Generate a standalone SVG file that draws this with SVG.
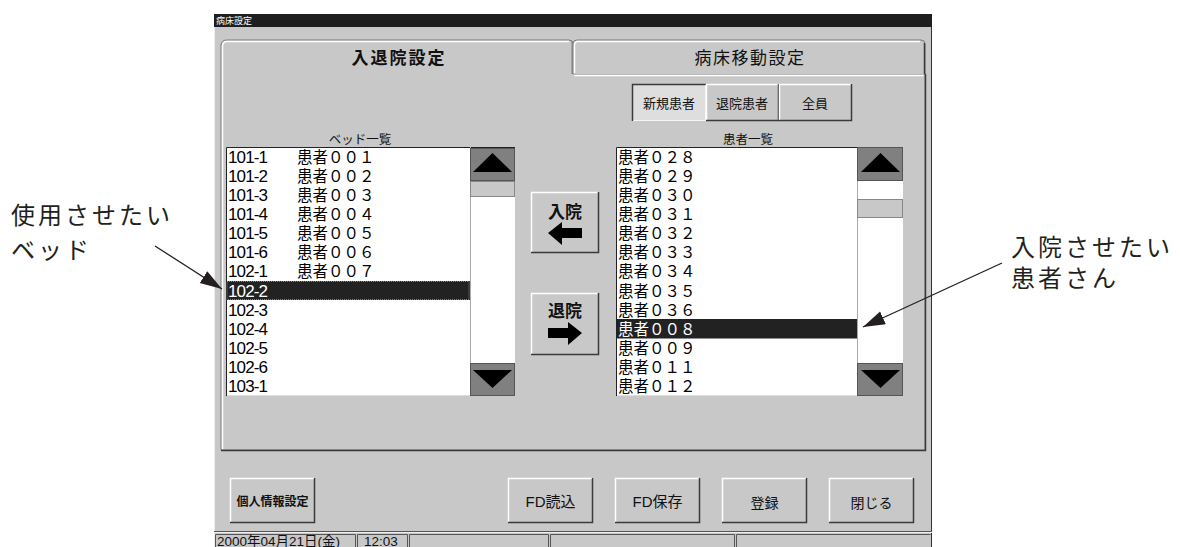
<svg xmlns="http://www.w3.org/2000/svg" width="1180" height="547" viewBox="0 0 1180 547">
<style>
.ui{font-family:"Liberation Sans","Noto Sans CJK JP",sans-serif;fill:#111}
.jp{font-family:"Noto Sans CJK JP",sans-serif;fill:#111}
.face{fill:#c8c8c8}
.hl{fill:none;stroke:#fff;stroke-width:1.5}
.sh{fill:none;stroke:#3a3a3a;stroke-width:1.5}
.sh2{fill:none;stroke:#808080;stroke-width:1}
.id{font-family:"Liberation Sans",sans-serif;font-size:17px;fill:#000}
.nm{font-family:"Noto Sans CJK JP",sans-serif;font-size:15.5px;fill:#000}
.sel{fill:#fff}
.sbtn{fill:#808080;stroke:#555;stroke-width:1}
.ann{font-family:"Noto Sans CJK JP",sans-serif;font-size:24px;fill:#231f20;letter-spacing:3px}
.conn{stroke:#231f20;stroke-width:1.3;fill:none}
</style>
<defs>
<marker id="ah" markerUnits="userSpaceOnUse" markerWidth="24" markerHeight="16" refX="22" refY="7" orient="auto">
<path d="M0,0 L22,7 L0,14 Z" fill="#231f20"/>
</marker>
</defs>
<rect width="1180" height="547" fill="#fff"/>

<g id="window">
<rect x="214" y="14" width="718" height="533" class="face"/>
<line x1="214.5" y1="27" x2="214.5" y2="547" stroke="#eee"/>
<line x1="931.5" y1="14" x2="931.5" y2="547" stroke="#333"/>
<rect x="214" y="14" width="718" height="13" fill="#1e1e1e"/>
<text x="216" y="23.5" font-family="Noto Sans CJK JP,sans-serif" font-size="9" fill="#fff">病床設定</text>
</g>

<g id="tab-panel">
<path d="M221,450 V46 Q221,40 227,40 H569 Q573,40 573,44 V74 H925 V450 Z" class="face" stroke="#7a7a7a" stroke-width="1"/>
<path d="M222.5,449 V46.5 Q222.5,41.5 227,41.5 H569" class="hl"/>
<path d="M574,75.5 H923.5" class="hl"/>
<path d="M221,450.5 H925.5 V74" class="sh"/>
<path d="M572,41.5 V74" class="sh2"/>
</g>

<g id="tab-nyutai">
<text x="399" y="64" text-anchor="middle" class="ui" font-size="17" font-weight="bold" letter-spacing="2">入退院設定</text>
</g>

<g id="tab-idou">
<path d="M573,74 V44 Q573,40 577,40 H921 Q925,40 925,44 V74" class="face" stroke="#7a7a7a" stroke-width="1"/>
<path d="M574.5,73 V44.5 Q574.5,41.5 577.5,41.5 H920" class="hl"/>
<path d="M924.5,43 V74" class="sh"/>
<text x="750" y="64" text-anchor="middle" class="ui" font-size="17" letter-spacing="1.5">病床移動設定</text>
</g>

<g id="filter-shinki">
<rect x="632" y="84" width="74" height="37" fill="#dedede"/>
<path d="M632.5,121 V84.5 H706" class="sh"/>
<path d="M633.5,120.5 H705.5 V85" stroke="#f4f4f4" fill="none"/>
<text x="669" y="108" text-anchor="middle" class="ui" font-size="13">新規患者</text>
</g>
<g id="filter-taiin">
<rect x="706" y="84" width="73" height="37" class="face"/>
<path d="M706.5,120 V84.5 H778" class="hl"/>
<path d="M706,120.5 H778.5 V84" class="sh"/>
<text x="742" y="108" text-anchor="middle" class="ui" font-size="13">退院患者</text>
</g>
<g id="filter-zenin">
<rect x="779" y="84" width="73" height="37" class="face"/>
<path d="M779.5,120 V84.5 H851" class="hl"/>
<path d="M779,120.5 H851.5 V84" class="sh"/>
<text x="815" y="108" text-anchor="middle" class="ui" font-size="13">全員</text>
</g>

<g id="bed-list">
<text x="360" y="144" text-anchor="middle" class="ui" font-size="12.5">ベッド一覧</text>
<rect x="226" y="147" width="289" height="249" fill="#fff"/>
<path d="M226.5,396 V147.5 H515" stroke="#222" fill="none"/>
<path d="M227,395.5 H515" stroke="#ddd" fill="none"/>
<line x1="470.5" y1="147" x2="470.5" y2="396" stroke="#aaa"/>
<rect x="226" y="281" width="244" height="19" fill="#222"/>
<rect x="227" y="281.5" width="242" height="18" fill="none" stroke="#888" stroke-dasharray="1,1"/>
<rect x="470.5" y="148.5" width="44" height="32" class="sbtn"/>
<polygon points="473,172 512,172 492.5,153" fill="#000"/>
<rect x="470.5" y="181.5" width="44" height="15" fill="#c8c8c8" stroke="#888"/>
<rect x="470.5" y="363.5" width="44" height="32" class="sbtn"/>
<polygon points="473,370 512,370 492.5,388" fill="#000"/>
<text class="id" x="228" y="162.6" textLength="40">101-1</text><text class="nm" x="297" y="162.6">患者００１</text>
<text class="id" x="228" y="181.7" textLength="40">101-2</text><text class="nm" x="297" y="181.7">患者００２</text>
<text class="id" x="228" y="200.9" textLength="40">101-3</text><text class="nm" x="297" y="200.9">患者００３</text>
<text class="id" x="228" y="220.0" textLength="40">101-4</text><text class="nm" x="297" y="220.0">患者００４</text>
<text class="id" x="228" y="239.2" textLength="40">101-5</text><text class="nm" x="297" y="239.2">患者００５</text>
<text class="id" x="228" y="258.3" textLength="40">101-6</text><text class="nm" x="297" y="258.3">患者００６</text>
<text class="id" x="228" y="277.4" textLength="40">102-1</text><text class="nm" x="297" y="277.4">患者００７</text>
<text class="id sel" x="228" y="296.6" textLength="40">102-2</text>
<text class="id" x="228" y="315.7" textLength="40">102-3</text>
<text class="id" x="228" y="334.9" textLength="40">102-4</text>
<text class="id" x="228" y="354.0" textLength="40">102-5</text>
<text class="id" x="228" y="373.1" textLength="40">102-6</text>
<text class="id" x="228" y="392.3" textLength="40">103-1</text>
</g>

<g id="patient-list">
<text x="748" y="144" text-anchor="middle" class="ui" font-size="12.5">患者一覧</text>
<rect x="616" y="147" width="287" height="249" fill="#fff"/>
<path d="M616.5,396 V147.5 H903" stroke="#222" fill="none"/>
<path d="M617,395.5 H903" stroke="#ddd" fill="none"/>
<line x1="857.5" y1="147" x2="857.5" y2="396" stroke="#aaa"/>
<rect x="616" y="319" width="241" height="19.5" fill="#222"/>
<rect x="857.5" y="147.5" width="45" height="33" class="sbtn"/>
<polygon points="861,172 900,172 880.5,153" fill="#000"/>
<rect x="857.5" y="199.5" width="45" height="18" fill="#c8c8c8" stroke="#888"/>
<rect x="857.5" y="363.5" width="45" height="32" class="sbtn"/>
<polygon points="861,370 900,370 880.5,388" fill="#000"/>
<text class="nm" x="618" y="162.6" font-size="16">患者０２８</text>
<text class="nm" x="618" y="181.7" font-size="16">患者０２９</text>
<text class="nm" x="618" y="200.9" font-size="16">患者０３０</text>
<text class="nm" x="618" y="220.0" font-size="16">患者０３１</text>
<text class="nm" x="618" y="239.2" font-size="16">患者０３２</text>
<text class="nm" x="618" y="258.3" font-size="16">患者０３３</text>
<text class="nm" x="618" y="277.4" font-size="16">患者０３４</text>
<text class="nm" x="618" y="296.6" font-size="16">患者０３５</text>
<text class="nm" x="618" y="315.7" font-size="16">患者０３６</text>
<text class="nm sel" x="618" y="334.9" font-size="16">患者００８</text>
<text class="nm" x="618" y="354.0" font-size="16">患者００９</text>
<text class="nm" x="618" y="373.1" font-size="16">患者０１１</text>
<text class="nm" x="618" y="392.3" font-size="16">患者０１２</text>
</g>

<g id="btn-nyuin">
<rect x="531" y="192" width="68" height="61" class="face"/>
<path d="M531.5,252 V192.5 H598" class="hl"/>
<path d="M531,252.5 H598.5 V192" class="sh"/>
<text x="565" y="218" text-anchor="middle" class="ui" font-size="17" font-weight="bold">入院</text>
<polygon points="548,233 562,222 562,228 582,228 582,238 562,238 562,245" fill="#000"/>
</g>
<g id="btn-taiin">
<rect x="531" y="293" width="68" height="62" class="face"/>
<path d="M531.5,354 V293.5 H598" class="hl"/>
<path d="M531,354.5 H598.5 V293" class="sh"/>
<text x="565" y="317" text-anchor="middle" class="ui" font-size="17" font-weight="bold">退院</text>
<polygon points="582,333 568,322 568,328 548,328 548,338 568,338 568,345" fill="#000"/>
</g>

<g id="btn-kojin">
<rect x="230" y="478" width="85" height="45" class="face"/>
<path d="M230.5,522 V478.5 H314" class="hl"/>
<path d="M230,522.5 H314.5 V478" class="sh"/>
<text x="272.5" y="506" text-anchor="middle" class="ui" font-size="12" font-weight="bold">個人情報設定</text>
</g>
<g id="btn-fdread">
<rect x="508" y="478" width="85" height="45" class="face"/>
<path d="M508.5,522 V478.5 H592" class="hl"/>
<path d="M508,522.5 H592.5 V478" class="sh"/>
<text x="550.5" y="507" text-anchor="middle" class="ui" font-size="15">FD読込</text>
</g>
<g id="btn-fdsave">
<rect x="615" y="478" width="85" height="45" class="face"/>
<path d="M615.5,522 V478.5 H699" class="hl"/>
<path d="M615,522.5 H699.5 V478" class="sh"/>
<text x="657.5" y="507" text-anchor="middle" class="ui" font-size="15">FD保存</text>
</g>
<g id="btn-touroku">
<rect x="722" y="478" width="85" height="45" class="face"/>
<path d="M722.5,522 V478.5 H806" class="hl"/>
<path d="M722,522.5 H806.5 V478" class="sh"/>
<text x="764.5" y="508" text-anchor="middle" class="ui" font-size="14">登録</text>
</g>
<g id="btn-tojiru">
<rect x="829" y="478" width="85" height="45" class="face"/>
<path d="M829.5,522 V478.5 H913" class="hl"/>
<path d="M829,522.5 H913.5 V478" class="sh"/>
<text x="871.5" y="508" text-anchor="middle" class="ui" font-size="14">閉じる</text>
</g>

<g id="status-bar">
<line x1="214" y1="531.5" x2="932" y2="531.5" stroke="#555"/>
<line x1="214" y1="532.5" x2="932" y2="532.5" stroke="#eee"/>
<path d="M215.5,548 V534.5 H355.5 V548" fill="none" stroke="#555"/>
<path d="M357.5,548 V534.5 H407.5 V548" fill="none" stroke="#555"/>
<path d="M409.5,548 V534.5 H548.5 V548" fill="none" stroke="#555"/>
<path d="M550.5,548 V534.5 H734.5 V548" fill="none" stroke="#555"/>
<path d="M736.5,548 V534.5 H930.5" fill="none" stroke="#555"/>
<text x="217" y="546" class="ui" font-size="13.5">2000年04月21日(金)</text>
<text x="364" y="546" class="ui" font-size="13.5">12:03</text>
</g>

<g id="note-bed">
<text x="11" y="224" class="ann">使用させたい</text>
<text x="11" y="259" class="ann">ベッド</text>
</g>
<g id="note-patient">
<text x="1011" y="256" class="ann">入院させたい</text>
<text x="1011" y="287" class="ann">患者さん</text>
</g>

<g id="connectors">
<line x1="155" y1="246" x2="222" y2="289" class="conn" marker-end="url(#ah)"/>
<line x1="1002" y1="263" x2="863" y2="327" class="conn" marker-end="url(#ah)"/>
</g>
</svg>
